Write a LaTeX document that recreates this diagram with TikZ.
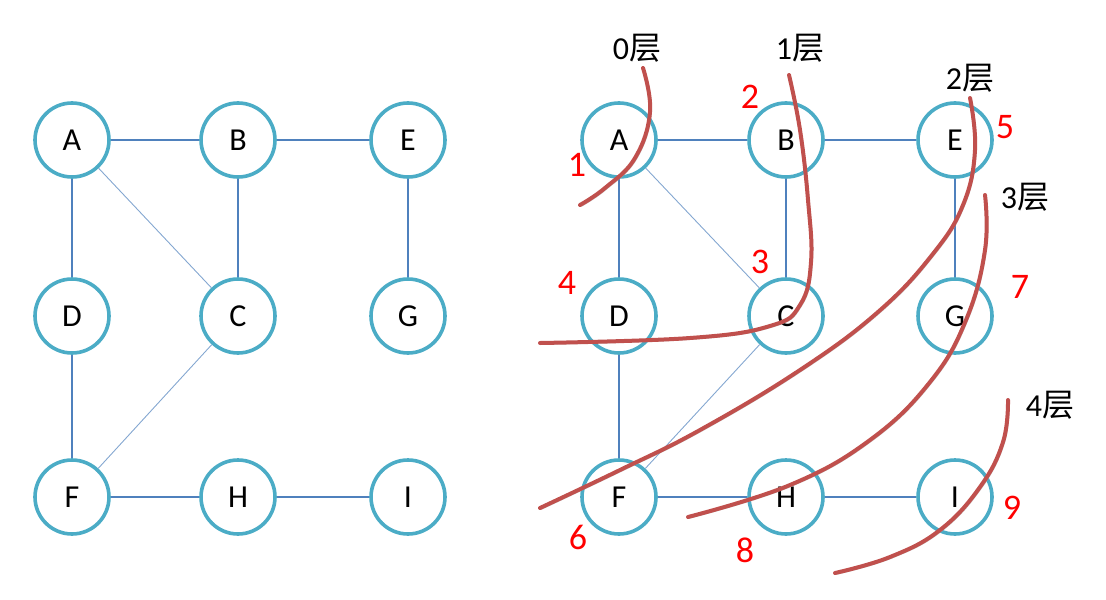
\documentclass[tikz,border=0pt]{standalone}
\usepackage{fontspec}
\setmainfont{Carlito}
\newfontfamily\cjkfont{Noto Sans CJK SC}
\usetikzlibrary{positioning}
\definecolor{ringteal}{HTML}{4BACC6}
\definecolor{edgeblue}{HTML}{4F81BD}
\definecolor{cutred}{HTML}{C0504D}
\definecolor{numred}{HTML}{FF0000}

\begin{document}
\begin{tikzpicture}[x=0.5pt, y=-0.5pt,
    vtx/.style={circle, draw=ringteal, line width=1.8pt, minimum size=37pt, inner sep=0pt, fill=white, font=\fontsize{16}{16}\selectfont},
    edge/.style={draw=edgeblue, line width=0.6pt},
    diag/.style={draw=edgeblue!70, line width=0.45pt},
    cut/.style={draw=cutred, line width=2pt, line cap=round,
      preaction={draw=black!35, opacity=0.6, transform canvas={xshift=0.7pt, yshift=-0.7pt}}},
    order/.style={text=numred, font=\fontsize{18}{18}\selectfont},
    layer/.style={font=\fontsize{16}{16}\selectfont}]
  \useasboundingbox (0,0) rectangle (1106,599);

  % Left graph
  \node[vtx] (lA) at (72,140) {A};
  \node[vtx] (lB) at (238,140) {B};
  \node[vtx] (lE) at (408,140) {E};
  \node[vtx] (lD) at (72,316) {D};
  \node[vtx] (lC) at (238,316) {C};
  \node[vtx] (lG) at (408,316) {G};
  \node[vtx] (lF) at (72,497) {F};
  \node[vtx] (lH) at (238,497) {H};
  \node[vtx] (lI) at (408,497) {I};

  \draw[edge] (lA) -- (lB);
  \draw[edge] (lB) -- (lE);
  \draw[edge] (lA) -- (lD);
  \draw[edge] (lB) -- (lC);
  \draw[edge] (lE) -- (lG);
  \draw[edge] (lD) -- (lF);
  \draw[edge] (lF) -- (lH);
  \draw[edge] (lH) -- (lI);
  \draw[diag] (lA) -- (lC);
  \draw[diag] (lC) -- (lF);

  % Right graph (BFS layers)
  \node[vtx] (rA) at (619,140) {A};
  \node[vtx] (rB) at (786,140) {B};
  \node[vtx] (rE) at (955,140) {E};
  \node[vtx] (rD) at (619,316) {D};
  \node[vtx] (rC) at (786,316) {C};
  \node[vtx] (rG) at (955,316) {G};
  \node[vtx] (rF) at (619,497) {F};
  \node[vtx] (rH) at (786,497) {H};
  \node[vtx] (rI) at (955,497) {I};

  \draw[edge] (rA) -- (rB);
  \draw[edge] (rB) -- (rE);
  \draw[edge] (rA) -- (rD);
  \draw[edge] (rB) -- (rC);
  \draw[edge] (rE) -- (rG);
  \draw[edge] (rD) -- (rF);
  \draw[edge] (rF) -- (rH);
  \draw[edge] (rH) -- (rI);
  \draw[diag] (rA) -- (rC);
  \draw[diag] (rC) -- (rF);

  % Visit order
  \node[order] (n1) at (577,165) {1};
  \node[order] (n2) at (750,97) {2};
  \node[order] (n3) at (760,262) {3};
  \node[order] (n4) at (567,283) {4};
  \node[order] (n5) at (1005,127) {5};
  \node[order] (n6) at (578,537) {6};
  \node[order] (n7) at (1020,287) {7};
  \node[order] (n8) at (745,550) {8};
  \node[order] (n9) at (1012,508) {9};

  % Layer labels
  \node[layer] (l0) at (637,48) {0\cjkfont 层};
  \node[layer] (l1) at (800,48) {1\cjkfont 层};
  \node[layer] (l2) at (970,78) {2\cjkfont 层};
  \node[layer] (l3) at (1025,197) {3\cjkfont 层};
  \node[layer] (l4) at (1050,405) {4\cjkfont 层};

  % Layer cuts
  \draw[cut] plot[smooth, tension=0.7] coordinates {(643,68) (650,112) (635,158) (605,188) (580,205)};
  \draw[cut] plot[smooth, tension=0.7] coordinates {(789,75) (800,130) (808,200) (811,262) (800,305) (770,326) (690,338) (540,343)};
  \draw[cut] plot[smooth, tension=0.7] coordinates {(970,98) (975,150) (963,205) (932,255) (878,312) (800,370) (700,430) (620,470) (540,508)};
  \draw[cut] plot[smooth, tension=0.7] coordinates {(985,195) (985,250) (966,320) (930,382) (870,440) (790,485) (688,517)};
  \draw[cut] plot[smooth, tension=0.7] coordinates {(1008,400) (1003,442) (980,487) (940,530) (890,557) (835,573)};
\end{tikzpicture}
\end{document}
